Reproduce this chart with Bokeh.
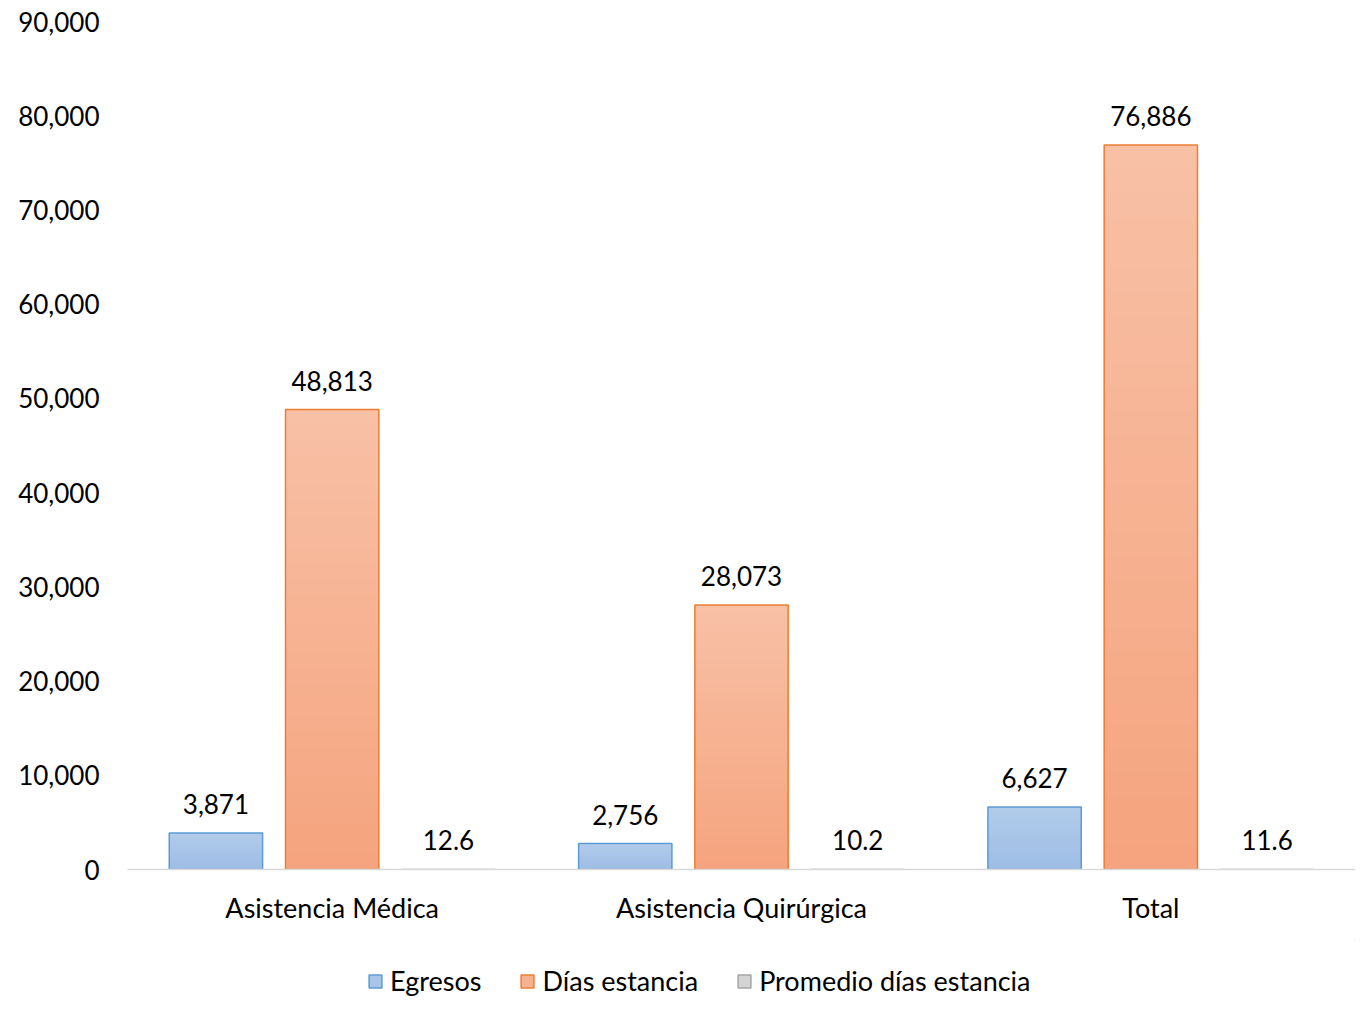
from bokeh.plotting import figure
from bokeh.layouts import column
from bokeh.models import (ColumnDataSource, FactorRange, LabelSet, Legend, LegendItem,
                          FixedTicker, NumeralTickFormatter)
from bokeh.transform import dodge
from bokeh.core.properties import value
from bokeh.embed import file_html
from bokeh.resources import INLINE

categories = ["Asistencia Médica", "Asistencia Quirúrgica", "Total"]
egresos = [3871, 2756, 6627]
dias_estancia = [48813, 28073, 76886]
promedio = [12.6, 10.2, 11.6]
series_names = ["Egresos", "Días estancia", "Promedio días estancia"]
y_ticks = [0, 10000, 20000, 30000, 40000, 50000, 60000, 70000, 80000, 90000]

FONT = "Lato"
p = figure(x_range=FactorRange(*categories, range_padding=0), y_range=(0, 90000),
           width=1355, height=940, output_backend="svg", toolbar_location=None,
           min_border_left=127, min_border_right=0, min_border_top=21, min_border_bottom=71)
p.outline_line_color = None
p.xgrid.grid_line_color = None
p.ygrid.grid_line_color = None

lf = figure(width=1355, height=57, x_range=(0, 1), y_range=(0, 1), output_backend="svg",
            toolbar_location=None, min_border=0)
lf.axis.visible = False
lf.xgrid.grid_line_color = None
lf.ygrid.grid_line_color = None
lf.outline_line_color = None

def hex2rgb(h):
    h = h.lstrip("#")
    return tuple(int(h[i:i + 2], 16) for i in (0, 2, 4))

def mix(a, b, t):
    ra, rb = hex2rgb(a), hex2rgb(b)
    return "#%02x%02x%02x" % tuple(round(ra[k] + (rb[k] - ra[k]) * t) for k in range(3))

styles = [
    ("#9dbde5", "#b2cbea", "#5b9bd5"),
    ("#f5a47e", "#f8c0a6", "#ed7d31"),
    ("#c9c9c9", "#e0e0e0", "#a5a5a5"),
]
offsets = [-0.284, 0.0, 0.284]
BW = 0.228
N = 30
all_series = [egresos, dias_estancia, promedio]
legend_items = []
for vals, (c_bot, c_top, c_line), off, name in zip(all_series, styles, offsets, series_names):
    cats, bots, tops, cols = [], [], [], []
    for c, v in zip(categories, vals):
        for i in range(N):
            cats.append(c)
            bots.append(v * i / N)
            tops.append(min(v, v * (i + 2) / N))
            cols.append(mix(c_bot, c_top, (i + 0.5) / N))
    seg = ColumnDataSource(dict(cat=cats, bottom=bots, top=tops, color=cols))
    p.vbar(x=dodge("cat", off, range=p.x_range), bottom="bottom", top="top", width=BW,
           source=seg, fill_color="color", line_color=None)
    if name.startswith("Promedio"):
        txt = ["%.1f" % v for v in vals]
    else:
        txt = ["{:,}".format(v) for v in vals]
    src = ColumnDataSource(dict(cat=categories, val=vals, txt=txt))
    p.vbar(x=dodge("cat", off, range=p.x_range), top="val", width=BW, source=src,
           fill_color=None, line_color=c_line, line_width=1.5)
    p.add_layout(LabelSet(x=dodge("cat", off, range=p.x_range), y="val", text="txt", source=src,
                          text_align="center", text_baseline="bottom", y_offset=19,
                          text_font=value(FONT), text_font_size="26px", text_color="#000000"))
    # legend swatch renderer: placed outside the legend figure's ranges (clipped), used only as key
    leg = lf.vbar(x=[5], bottom=[5], top=[6], width=0.1, fill_color=mix(c_bot, c_top, 0.5),
                  line_color=c_line, line_width=1.5)
    legend_items.append(LegendItem(label=name, renderers=[leg]))

p.yaxis.ticker = FixedTicker(ticks=y_ticks)
p.yaxis.formatter = NumeralTickFormatter(format="0,0")
p.yaxis.axis_line_color = None
p.yaxis.major_tick_line_color = None
p.yaxis.minor_tick_line_color = None
p.yaxis.major_label_text_font = FONT
p.yaxis.major_label_text_font_size = "26px"
p.yaxis.major_label_text_color = "#000000"
p.yaxis.major_label_standoff = 22

p.xaxis.axis_line_color = "#d9d9d9"
p.xaxis.axis_line_width = 1.5
p.xaxis.major_tick_line_color = None
p.xaxis.minor_tick_line_color = None
p.xaxis.major_label_text_font = FONT
p.xaxis.major_label_text_font_size = "27px"
p.xaxis.major_label_text_color = "#000000"
p.xaxis.major_label_standoff = 15

legend = Legend(items=legend_items, orientation="horizontal", location=(240, 0),
                glyph_width=16, glyph_height=16, label_standoff=7, spacing=38,
                padding=0, margin=0, border_line_color=None, background_fill_alpha=0,
                label_text_font=FONT, label_text_font_size="27px", label_text_color="#000000")
lf.add_layout(legend, "center")

layout = column(p, lf, spacing=0)
open("out.html", "w").write(file_html(layout, INLINE))
